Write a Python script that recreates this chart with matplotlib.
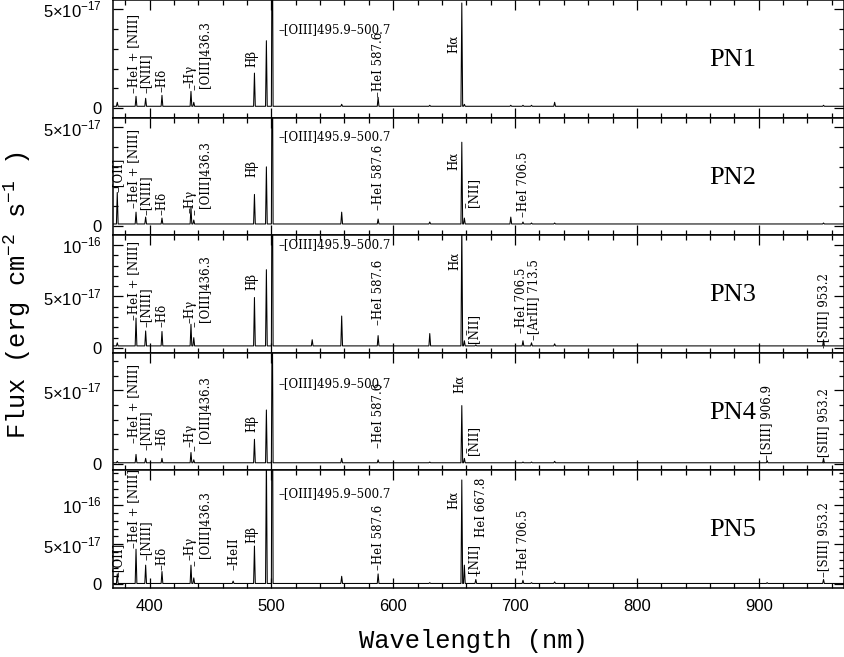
import numpy as np
import matplotlib
matplotlib.use("Agg")
import matplotlib.pyplot as plt
from matplotlib.ticker import MultipleLocator, FixedLocator
import matplotlib.transforms as mtransforms

# ---------------- data (flux in units of 1e-17 erg cm-2 s-1) ----------------
line_wl = [373.5, 388.9, 396.8, 410.2, 434.0, 436.3, 468.6, 486.1, 495.9, 500.7,
           533.5, 557.7, 587.6, 630.0, 656.3, 658.4, 667.8, 696.5, 706.5, 713.5,
           732.5, 906.9, 953.2]
peaks_pn1 = [0.2, 0.5, 0.4, 0.55, 0.75, 0.2, 0.0, 1.67, 3.3, 12.0,
             0.0, 0.1, 0.45, 0.05, 5.2, 0.1, 0.0, 0.05, 0.05, 0.05,
             0.2, 0.0, 0.05]
peaks_pn2 = [1.6, 0.6, 0.35, 0.3, 0.85, 0.2, 0.0, 1.5, 2.9, 12.0,
             0.0, 0.6, 0.25, 0.1, 4.15, 0.3, 0.0, 0.35, 0.1, 0.05,
             0.05, 0.0, 0.05]
peaks_pn3 = [0.3, 2.7, 1.45, 1.4, 2.1, 0.8, 0.0, 4.7, 7.4, 25.0,
             0.6, 2.9, 1.0, 1.2, 12.0, 0.5, 0.1, 0.0, 0.5, 0.3,
             0.2, 0.0, 0.6]
peaks_pn4 = [0.1, 0.57, 0.3, 0.3, 0.7, 0.2, 0.0, 1.6, 3.6, 12.0,
             0.0, 0.3, 0.2, 0.05, 3.9, 0.3, 0.0, 0.0, 0.05, 0.05,
             0.1, 0.15, 0.3]
peaks_pn5 = [1.2, 4.3, 2.3, 1.5, 2.3, 0.7, 0.3, 4.7, 16.0, 40.0,
             0.0, 0.9, 1.2, 0.1, 13.0, 2.3, 0.5, 0.0, 0.4, 0.1,
             0.2, 0.1, 0.5]
continuum = [0.1, 0.1, 0.2, 0.05, 0.1]
panel_names = ["PN1", "PN2", "PN3", "PN4", "PN5"]
all_peaks = [peaks_pn1, peaks_pn2, peaks_pn3, peaks_pn4, peaks_pn5]

x_ticks = [400, 500, 600, 700, 800, 900]
y_tick_vals = [0, 5, 10]
y_tick_text = ["0", "5\u00d710$^{\\mathregular{-17}}$", "10$^{\\mathregular{-16}}$"]

# line identifications per panel: (text, wavelength position, height as axes fraction)
labels_pn1 = [("\u2013HeI + [NIII]", 386.9, 0.207), ("\u2013[NIII]", 397.0, 0.207),
              ("\u2013H\u03b4", 410.5, 0.22), ("\u2013H\u03b3", 433.5, 0.252),
              ("\u2013", 437.5, 0.235), ("[OIII]436.3", 444.9, 0.252),
              ("H\u03b2", 484.3, 0.433), ("\u2013HeI 587.6", 587.8, 0.178),
              ("H\u03b1", 649.3, 0.547)]
labels_pn2 = [("\u2013[OII]", 374.6, 0.37), ("\u2013HeI + [NIII]", 386.9, 0.229),
              ("\u2013[NIII]", 397.0, 0.172), ("\u2013H\u03b4", 410.5, 0.172),
              ("\u2013H\u03b3", 433.5, 0.189), ("\u2013", 437.5, 0.172),
              ("[OIII]436.3", 444.9, 0.231), ("H\u03b2", 484.3, 0.497),
              ("\u2013HeI 587.6", 587.8, 0.214), ("H\u03b1", 649.3, 0.554),
              ("\u2013", 659.5, 0.231), ("[NII]", 665.7, 0.242),
              ("\u2013HeI 706.5", 706.7, 0.157)]
labels_pn3 = [("\u2013HeI + [NIII]", 386.9, 0.279), ("\u2013[NIII]", 397.0, 0.222),
              ("\u2013H\u03b4", 410.5, 0.222), ("\u2013H\u03b3", 433.5, 0.251),
              ("\u2013", 437.5, 0.22), ("[OIII]436.3", 444.9, 0.264),
              ("H\u03b2", 484.3, 0.534), ("\u2013HeI 587.6", 587.8, 0.236),
              ("H\u03b1", 650.7, 0.704), ("\u2013", 660.3, 0.15),
              ("[NII]", 665.7, 0.081), ("\u2013HeI 706.5", 705.4, 0.166),
              ("\u2013[ArIII] 713.5", 714.9, 0.109), ("\u2013[SIII] 953.2", 953.3, 0.04)]
labels_pn4 = [("\u2013HeI + [NIII]", 386.9, 0.23), ("\u2013[NIII]", 397.0, 0.173),
              ("\u2013H\u03b4", 410.5, 0.173), ("\u2013H\u03b3", 433.5, 0.2),
              ("\u2013", 437.5, 0.165), ("[OIII]436.3", 444.9, 0.23),
              ("H\u03b2", 484.3, 0.329), ("\u2013HeI 587.6", 587.8, 0.188),
              ("H\u03b1", 654.8, 0.656), ("\u2013", 660.3, 0.15),
              ("[NII]", 665.7, 0.131), ("\u2013[SIII] 906.9", 906.3, 0.088),
              ("\u2013[SIII] 953.2", 953.3, 0.06)]
labels_pn5 = [("\u2013[OII]", 374.6, 0.096), ("\u2013HeI + [NIII]", 386.9, 0.338),
              ("\u2013[NIII]", 397.0, 0.238), ("\u2013H\u03b4", 410.5, 0.153),
              ("\u2013H\u03b3", 433.5, 0.238), ("\u2013", 437.5, 0.187),
              ("[OIII]436.3", 444.9, 0.253), ("\u2013HeII", 468.9, 0.153),
              ("H\u03b2", 484.3, 0.38), ("\u2013HeI 587.6", 587.8, 0.153),
              ("H\u03b1", 649.3, 0.669), ("[NII]", 665.7, 0.125),
              ("\u2013", 669.0, 0.10), ("HeI 667.8", 672.6, 0.436),
              ("\u2013HeI 706.5", 706.7, 0.11), ("\u2013[SIII] 953.2", 953.3, 0.096)]
all_labels = [labels_pn1, labels_pn2, labels_pn3, labels_pn4, labels_pn5]
oiii_label = "\u2013[OIII]495.9\u2013500.7"
oiii_label_y = [0.751, 0.837, 0.917, 0.741, 0.805]

# ---------------- layout ----------------
W, H = 845, 657
fig = plt.figure(figsize=(W / 100, H / 100), dpi=100)
left, right = 113 / W, 844 / W
bottom_all, top_all = 1 - 588 / H, 1.0
ph = (top_all - bottom_all) / 5
y_tops = [5.45, 5.5, 10.95, 7.55, 14.3]
y_bot = -0.47
xlim = (370, 970)

label_font = dict(family="DejaVu Serif", size=8.5)

for i in range(5):
    ax = fig.add_axes([left, top_all - (i + 1) * ph, right - left, ph])
    cont = continuum[i]
    xs, ys = [xlim[0]], [cont]
    for wl, p in sorted(zip(line_wl, all_peaks[i])):
        if p <= 0:
            continue
        xs += [wl - 0.7, wl, wl + 0.7]
        ys += [cont, cont + p, cont]
    xs.append(xlim[1]); ys.append(cont)
    ax.plot(xs, ys, color="black", lw=0.75)

    ax.set_xlim(*xlim)
    ax.set_ylim(y_bot, y_tops[i])
    ax.xaxis.set_major_locator(FixedLocator(x_ticks))
    ax.xaxis.set_minor_locator(MultipleLocator(20))
    vis = [k for k, v in enumerate(y_tick_vals) if v < y_tops[i]]
    ax.set_yticks([y_tick_vals[k] for k in vis])
    ax.set_yticklabels([y_tick_text[k] for k in vis], family="Liberation Sans", size=12)
    ax.yaxis.set_minor_locator(MultipleLocator(1))
    ax.tick_params(which="both", direction="in", top=True, bottom=True,
                   left=True, right=True, width=0.9)
    ax.tick_params(which="major", length=7, pad=8)
    ax.tick_params(which="minor", length=3.5)
    if i < 4:
        ax.tick_params(labelbottom=False)
    else:
        for t in ax.get_xticklabels():
            t.set_family("Liberation Sans"); t.set_size(12)
    for s in ax.spines.values():
        s.set_linewidth(1.1)

    trans = mtransforms.blended_transform_factory(ax.transData, ax.transAxes)
    for txt, xw, yf in all_labels[i]:
        ax.text(xw, yf, txt, rotation=90, ha="center", va="bottom",
                transform=trans, **label_font)
    ax.text(505.8, oiii_label_y[i], oiii_label, ha="left", va="center",
            transform=trans, **label_font)
    ax.text(878.7, 0.49, panel_names[i], ha="center", va="center",
            transform=trans, family="Liberation Serif", size=19)

fig.text(0.56, 9 / H, "Wavelength (nm)", ha="center", va="baseline",
         family="Liberation Mono", size=18.4)
fig.text(17 / W, (1 - 295 / H), "Flux (erg cm$^{\\mathregular{-2}}$ s$^{\\mathregular{-1}}$ )",
         rotation=90, ha="center", va="center", family="Liberation Mono", size=18.4)

fig.savefig("out.png", dpi=100)
